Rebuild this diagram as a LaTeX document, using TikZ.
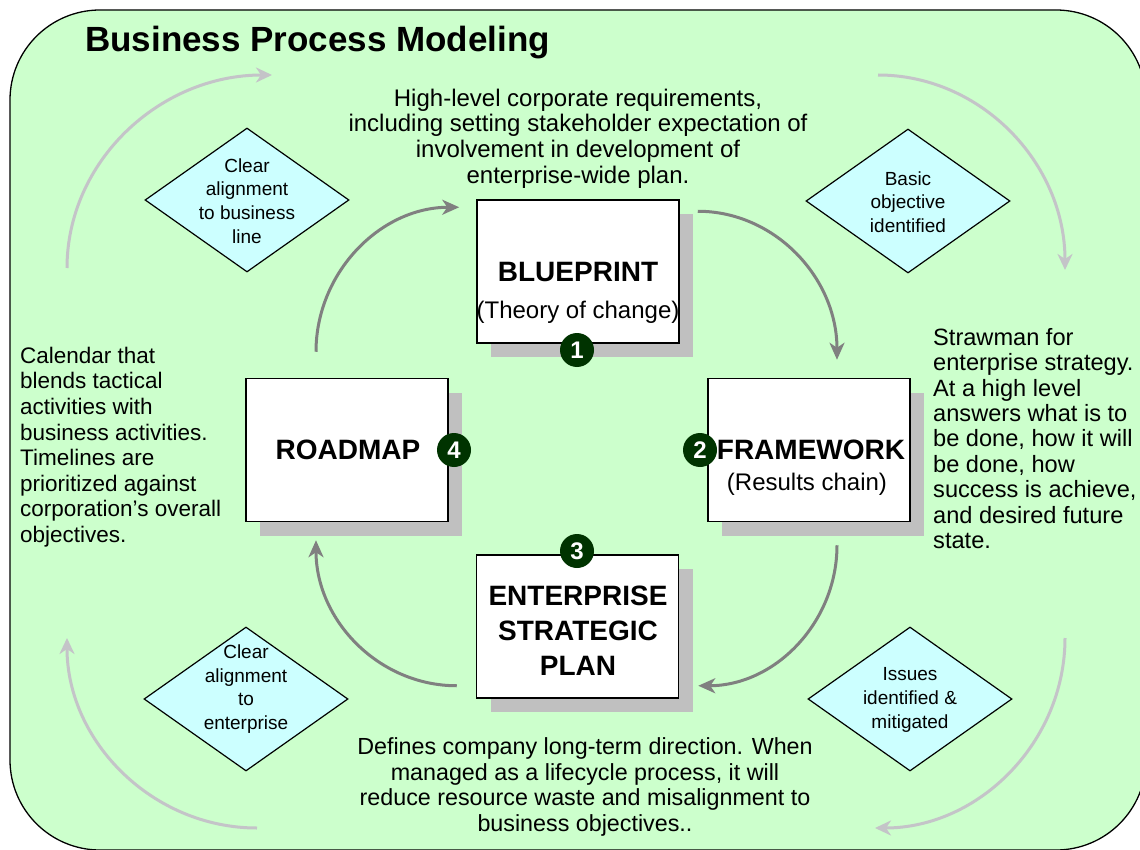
\documentclass[tikz,border=0pt]{standalone}
\usepackage{fontspec}
\setmainfont{Liberation Sans}
\usetikzlibrary{arrows.meta,shapes.geometric,shadows}
\definecolor{bggreen}{HTML}{CCFFCC}
\definecolor{decfill}{HTML}{CCFFFF}
\definecolor{shadowgray}{HTML}{C0C0C0}
\definecolor{badgegreen}{HTML}{003300}
\definecolor{innergray}{HTML}{808080}
\definecolor{outergray}{HTML}{C4C4C8}
\begin{document}
\begin{tikzpicture}[x=1pt,y=-1pt,
  stagebox/.style={draw=black, line width=1.5pt, fill=white,
    minimum width=202pt, minimum height=143pt, inner sep=0pt,
    general shadow={shadow xshift=14pt, shadow yshift=-14pt, fill=shadowgray}},
  stagetitle/.style={font=\bfseries\fontsize{28}{35}\selectfont, align=center, inner sep=0pt},
  stagesub/.style={font=\fontsize{24}{26}\selectfont, inner sep=0pt},
  badge/.style={circle, fill=badgegreen, minimum size=34pt, inner sep=0pt,
    text=white, font=\bfseries\fontsize{24}{24}\selectfont},
  decision/.style={diamond, draw=black, line width=1.2pt, fill=decfill,
    minimum width=204pt, minimum height=144pt, inner sep=0pt},
  dtext/.style={font=\fontsize{19}{23.7}\selectfont, align=center, inner sep=0pt},
  note/.style={inner sep=0pt},
  cycle/.style={draw=innergray, line width=3pt,
    -{Stealth[length=17pt,width=15pt,inset=5pt]}},
  outer/.style={draw=outergray, line width=3pt,
    -{Stealth[length=16pt,width=15pt,inset=5pt]}}]

\useasboundingbox (0,0) rectangle (1140,850);
\clip (0,0) rectangle (1140,850);

% background panel
\draw[fill=bggreen, line width=1.3pt, rounded corners=90pt] (10,10) rectangle (1146,850);

\node[font=\bfseries\fontsize{35}{40}\selectfont, anchor=base west, inner sep=0pt]
  (title) at (85,52) {Business Process Modeling};

% outer gray cycle
\coordinate (o1s) at (67,268);   \coordinate (o1e) at (272,75);
\coordinate (o2s) at (878,75);   \coordinate (o2e) at (1065,270);
\coordinate (o3s) at (1065,638); \coordinate (o3e) at (875,828);
\coordinate (o4s) at (257,828);  \coordinate (o4e) at (67,638);
\draw[outer] (o1s) .. controls +(0,-106) and +(-113,0) .. (o1e);
\draw[outer] (o2s) .. controls +(103,0) and +(0,-107) .. (o2e);
\draw[outer] (o3s) .. controls +(0,104) and +(104,0) .. (o3e);
\draw[outer] (o4s) .. controls +(-104,0) and +(0,104) .. (o4e);

% decision diamonds
\node[decision] (d1) at (247,200) {};
\node[dtext] (d1t) at (247,201) {Clear\\alignment\\to business\\line};
\node[decision] (d2) at (908,201) {};
\node[dtext] (d2t) at (908,202) {Basic\\objective\\identified};
\node[decision] (d3) at (246,699) {};
\node[dtext] (d3t) at (246,689) {Clear\\alignment\\to\\enterprise};
\node[decision] (d4) at (910,699) {};
\node[dtext] (d4t) at (910,700) {Issues\\identified \&\\mitigated};

% stage boxes
\node[stagebox] (bp)  at (578,271.5) {};
\node[stagebox] (rm)  at (347,450) {};
\node[stagebox] (fw)  at (809,450) {};
\node[stagebox] (esp) at (577.5,626.5) {};

\node[stagetitle] (bpt) at (578,272) {BLUEPRINT};
\node[stagesub] (bps) at (578,312) {(Theory of change)};
\node[stagetitle] (rmt) at (348,450) {ROADMAP};
\node[stagetitle] (fwt) at (811,450) {FRAMEWORK};
\node[stagesub] (fws) at (807,484) {(Results chain)};
\node[stagetitle] (espt) at (578,631) {ENTERPRISE\\STRATEGIC\\PLAN};

% step badges
\node[badge] (b1) at (577,350) {1};
\node[badge] (b2) at (700,450) {2};
\node[badge] (b3) at (577,551) {3};
\node[badge] (b4) at (454,450) {4};

% inner cycle
\draw[cycle] ([shift={(-31,-26)}]rm.north) .. controls +(0,-79) and +(-79,0) .. ([shift={(-17,8)}]bp.north west);
\draw[cycle] ([shift={(18,12)}]bp.north east) .. controls +(77,0) and +(0,-82) .. ([shift={(28,-18)}]fw.north);
\draw[cycle] ([shift={(28,23)}]fw.south) .. controls +(0,77) and +(77,0) .. ([shift={(19,-13)}]esp.south east);
\draw[cycle] ([shift={(-19,-13)}]esp.south west) .. controls +(-78,0) and +(0,80) .. ([shift={(-31,18)}]rm.south);

% descriptions
\node[note, font=\fontsize{24}{25.6}\selectfont, align=center] (ntop) at (578,138.5)
  {High-level corporate requirements,\\including setting stakeholder expectation of\\involvement in development of\\enterprise-wide plan.};
\node[note, font=\fontsize{22.5}{25.6}\selectfont, align=left, anchor=west] (nleft) at (20,447)
  {Calendar that\\blends tactical\\activities with\\business activities.\\Timelines are\\prioritized against\\corporation’s overall\\objectives.};
\node[note, font=\fontsize{23.6}{25.4}\selectfont, align=left, anchor=west] (nright) at (933,438.5)
  {Strawman for\\enterprise strategy.\\At a high level\\answers what is to\\be done, how it will\\be done, how\\success is achieve,\\and desired future\\state.};
\node[note, font=\fontsize{23.3}{25.8}\selectfont, align=center] (nbot) at (585,787)
  {Defines company long-term direction. When\\managed as a lifecycle process, it will\\reduce resource waste and misalignment to\\business objectives..};

\end{tikzpicture}
\end{document}
